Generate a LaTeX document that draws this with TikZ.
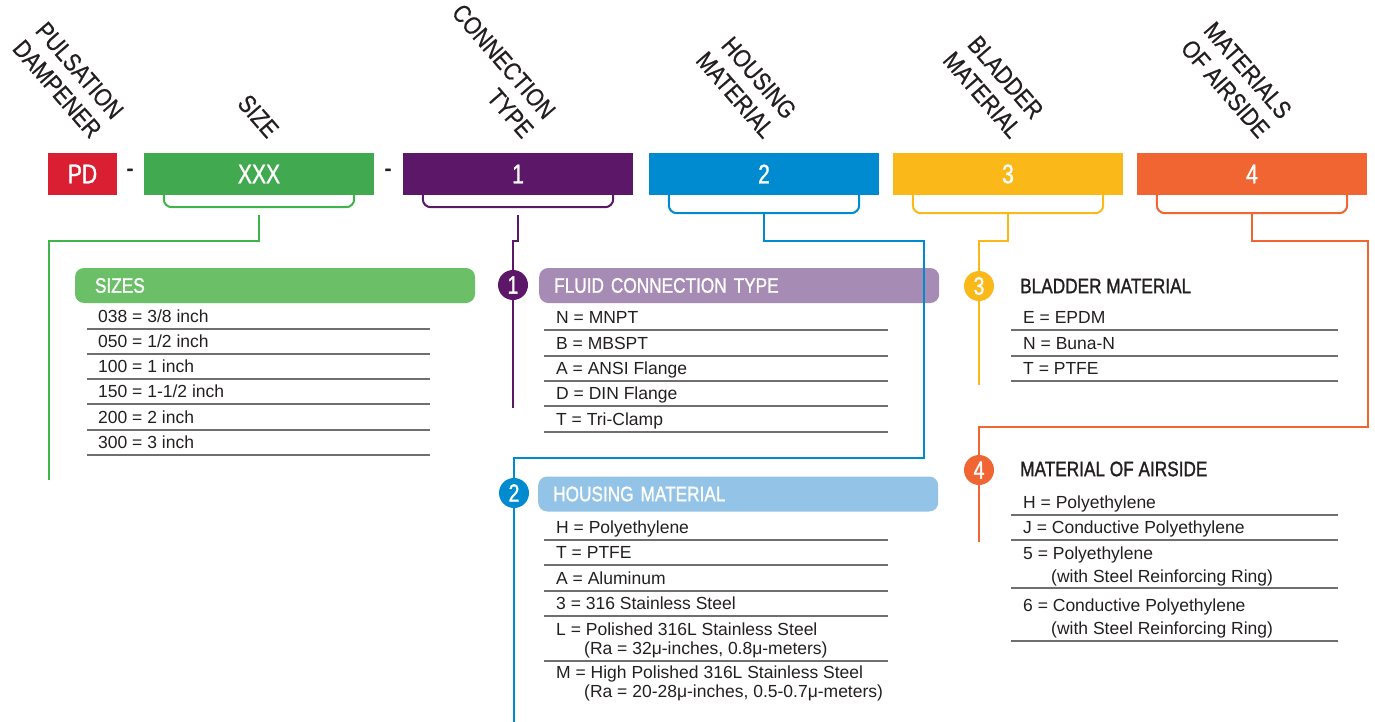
\documentclass[tikz,border=0pt]{standalone}
\usepackage{fontspec}
\setmainfont{Liberation Sans}
\newfontfamily\labelfont[FakeStretch=0.845,FakeBold=0.6]{Liberation Sans}
\newfontfamily\headfont[FakeStretch=0.82,FakeBold=1.2]{Liberation Sans}
\newfontfamily\codefont[FakeStretch=0.78,FakeBold=1.2]{Liberation Sans}
\definecolor{pdred}{HTML}{DA1F33}
\definecolor{sizegreen}{HTML}{41A94F}
\definecolor{sizeline}{HTML}{3DB54A}
\definecolor{sizebar}{HTML}{6BBF67}
\definecolor{conpurple}{HTML}{5C1769}
\definecolor{conbar}{HTML}{A68BB4}
\definecolor{housblue}{HTML}{008BD1}
\definecolor{housbar}{HTML}{93C4E8}
\definecolor{bladyellow}{HTML}{FBB819}
\definecolor{airorange}{HTML}{F16532}
\definecolor{ink}{HTML}{231F20}
\definecolor{rulegray}{HTML}{6F6F6F}
\begin{document}
\begin{tikzpicture}[x=1pt,y=-1pt]
		\tikzstyle{codebox} = [rectangle, minimum height=42pt, inner sep=0pt, text=white, font=\codefont\fontsize{27}{30}\selectfont]
		\tikzstyle{toplabel} = [rotate=-49, anchor=south east, align=right, inner sep=0pt, text=ink, font=\labelfont\fontsize{25}{29}\selectfont]
		\tikzstyle{headbar} = [rectangle, rounded corners=9pt, minimum width=400pt, minimum height=35pt, text width=370pt, inner xsep=15pt, align=left, text=white, font=\headfont\fontsize{21}{24}\selectfont]
		\tikzstyle{heading} = [anchor=west, inner sep=0pt, text=ink, font=\headfont\fontsize{21}{24}\selectfont]
		\tikzstyle{entry} = [anchor=base west, inner sep=0pt, text=ink, font=\fontsize{17.5}{19}\selectfont]
		\tikzstyle{rule} = [draw=rulegray, line width=1.3pt]
		\tikzstyle{link} = [line width=2.2pt]
		\tikzstyle{brace} = [line width=2pt, rounded corners=8pt]
		\tikzstyle{numdot} = [circle, minimum size=30pt, inner sep=0pt, text=white, font=\codefont\fontsize{25}{25}\selectfont]
		\useasboundingbox (0,0) rectangle (1375,722);

		\node [toplabel] (lpd) at (90,140) {PULSATION\\DAMPENER};
		\node [toplabel] (lsize) at (267,140) {SIZE};
		\node [toplabel] (lcon) at (522,140) {CONNECTION\\TYPE};
		\node [toplabel] (lhous) at (763,140) {HOUSING\\MATERIAL};
		\node [toplabel] (lblad) at (1010,140) {BLADDER\\MATERIAL};
		\node [toplabel] (lair) at (1258,140) {MATERIALS\\OF AIRSIDE};

		\node [codebox, fill=pdred, minimum width=69pt] (pd) at (82.5,174) {PD};
		\node [text=ink, font=\codefont\fontsize{27}{30}\selectfont] (d1) at (130,173) {-};
		\node [codebox, fill=sizegreen, minimum width=230pt] (xxx) at (259,174) {XXX};
		\node [text=ink, font=\codefont\fontsize{27}{30}\selectfont] (d2) at (388,173) {-};
		\node [codebox, fill=conpurple, minimum width=230pt] (con) at (518,174) {1};
		\node [codebox, fill=housblue, minimum width=230pt] (hous) at (764,174) {2};
		\node [codebox, fill=bladyellow, minimum width=230pt] (blad) at (1008,174) {3};
		\node [codebox, fill=airorange, minimum width=230pt] (air) at (1252,174) {4};

		\draw [brace, draw=sizeline] ([xshift=20pt]xxx.south west) |- ([yshift=-12pt]xxx.south) -| ([xshift=-20pt]xxx.south east);
		\draw [brace, draw=conpurple] ([xshift=20pt]con.south west) |- ([yshift=-12pt]con.south) -| ([xshift=-20pt]con.south east);
		\draw [brace, draw=housblue] ([xshift=20pt]hous.south west) |- ([yshift=-18pt]hous.south) -| ([xshift=-20pt]hous.south east);
		\draw [brace, draw=bladyellow] ([xshift=20pt]blad.south west) |- ([yshift=-18pt]blad.south) -| ([xshift=-20pt]blad.south east);
		\draw [brace, draw=airorange] ([xshift=20pt]air.south west) |- ([yshift=-18pt]air.south) -| ([xshift=-20pt]air.south east);

		\node [headbar, fill=sizebar, inner xsep=20pt, text width=360pt] (sizes) at (275,285.5) {SIZES};
		\node [entry] (s1) at (98,322) {038 = 3/8 inch};
		\node [entry] (s2) at (98,347) {050 = 1/2 inch};
		\node [entry] (s3) at (98,372) {100 = 1 inch};
		\node [entry] (s4) at (98,397) {150 = 1-1/2 inch};
		\node [entry] (s5) at (98,423) {200 = 2 inch};
		\node [entry] (s6) at (98,448) {300 = 3 inch};
		\draw [rule] (87,329) -- (430,329);
		\draw [rule] (87,354) -- (430,354);
		\draw [rule] (87,379) -- (430,379);
		\draw [rule] (87,404) -- (430,404);
		\draw [rule] (87,430) -- (430,430);
		\draw [rule] (87,455) -- (430,455);

		\node [headbar, fill=conbar] (fluid) at (539,285.5) [anchor=west] {FLUID CONNECTION TYPE};
		\node [entry] (f1) at (556,323) {N = MNPT};
		\node [entry] (f2) at (556,349) {B = MBSPT};
		\node [entry] (f3) at (556,374) {A = ANSI Flange};
		\node [entry] (f4) at (556,399) {D = DIN Flange};
		\node [entry] (f5) at (556,425) {T = Tri-Clamp};
		\draw [rule] (544,330) -- (888,330);
		\draw [rule] (544,356) -- (888,356);
		\draw [rule] (544,381) -- (888,381);
		\draw [rule] (544,406) -- (888,406);
		\draw [rule] (544,432) -- (888,432);

		\node [headbar, fill=housbar] (housing) at (538,494) [anchor=west] {HOUSING MATERIAL};
		\node [entry] (h1) at (556,533) {H = Polyethylene};
		\node [entry] (h2) at (556,558) {T = PTFE};
		\node [entry] (h3) at (556,584) {A = Aluminum};
		\node [entry] (h4) at (556,609) {3 = 316 Stainless Steel};
		\node [entry] (h5) at (556,635) {L = Polished 316L Stainless Steel};
		\node [entry] (h5b) at (584,654) {(Ra = 32μ-inches, 0.8μ-meters)};
		\node [entry] (h6) at (556,678) {M = High Polished 316L Stainless Steel};
		\node [entry] (h6b) at (584,697) {(Ra = 20-28μ-inches, 0.5-0.7μ-meters)};
		\draw [rule] (544,540) -- (888,540);
		\draw [rule] (544,565) -- (888,565);
		\draw [rule] (544,591) -- (888,591);
		\draw [rule] (544,616) -- (888,616);
		\draw [rule] (544,661) -- (888,661);

		\node [heading] (bladder) at (1020,286) {BLADDER MATERIAL};
		\node [entry] (b1) at (1023,323) {E = EPDM};
		\node [entry] (b2) at (1023,349) {N = Buna-N};
		\node [entry] (b3) at (1023,374) {T = PTFE};
		\draw [rule] (1011,330) -- (1338,330);
		\draw [rule] (1011,356) -- (1338,356);
		\draw [rule] (1011,381) -- (1338,381);

		\node [heading] (airside) at (1020,469) {MATERIAL OF AIRSIDE};
		\node [entry] (a1) at (1023,508) {H = Polyethylene};
		\node [entry] (a2) at (1023,533) {J = Conductive Polyethylene};
		\node [entry] (a3) at (1023,559) {5 = Polyethylene};
		\node [entry] (a3b) at (1051,582) {(with Steel Reinforcing Ring)};
		\node [entry] (a4) at (1023,611) {6 = Conductive Polyethylene};
		\node [entry] (a4b) at (1051,634) {(with Steel Reinforcing Ring)};
		\draw [rule] (1011,515) -- (1338,515);
		\draw [rule] (1011,540) -- (1338,540);
		\draw [rule] (1011,588) -- (1338,588);
		\draw [rule] (1011,641) -- (1338,641);

		\coordinate (gend) at (49,480);
		\coordinate (pend) at (513,408);
		\coordinate (hturn) at (924,458);
		\coordinate (hend) at (514,722);
		\coordinate (yend) at (979,385);
		\coordinate (oturn) at (1368,427);
		\coordinate (oend) at (979,542);
		\draw [link, draw=sizeline] ([yshift=-20pt]xxx.south) -- ++(0,26) -| (gend);
		\draw [link, draw=conpurple] ([yshift=-20pt]con.south) -- ++(0,26) -| (pend);
		\draw [link, draw=housblue] ([yshift=-18pt]hous.south) -- ++(0,28) -| (hturn) -| (hend);
		\draw [link, draw=bladyellow] ([yshift=-18pt]blad.south) -- ++(0,28) -| (yend);
		\draw [link, draw=airorange] ([yshift=-18pt]air.south) -- ++(0,28) -| (oturn) -| (oend);

		\node [numdot, fill=conpurple] (n1) at (513,285) {1};
		\node [numdot, fill=housblue] (n2) at (514,493) {2};
		\node [numdot, fill=bladyellow] (n3) at (979,286) {3};
		\node [numdot, fill=airorange] (n4) at (979,470) {4};
	\end{tikzpicture}
\end{document}
